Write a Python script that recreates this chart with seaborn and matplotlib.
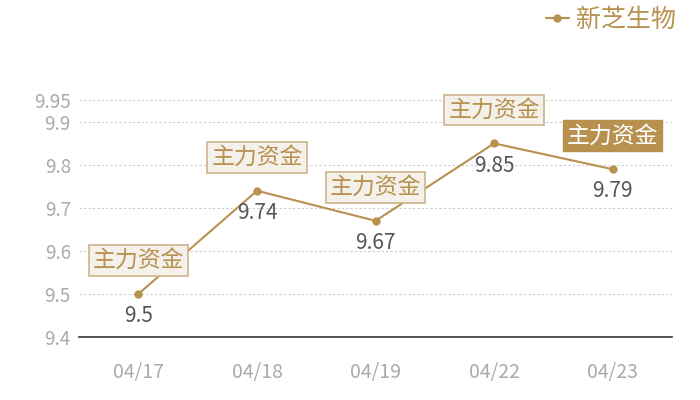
import matplotlib
matplotlib.use("Agg")
import matplotlib.pyplot as plt
import numpy as np
import pandas as pd
import seaborn as sns

dates = ["04/17", "04/18", "04/19", "04/22", "04/23"]
prices = [9.5, 9.74, 9.67, 9.85, 9.79]
tags = ["主力资金", "主力资金", "主力资金", "主力资金", "主力资金"]
tag_filled = [False, False, False, False, True]
series_name = "新芝生物"
y_ticks = [9.4, 9.5, 9.6, 9.7, 9.8, 9.9, 9.95]

gold = "#B8914F"

sns.set_theme(style="white")
plt.rcParams["font.family"] = ["Noto Sans CJK SC", "DejaVu Sans"]

df = pd.DataFrame({"date": dates, "price": prices})
df["pos"] = np.arange(len(df))

fig = plt.figure(figsize=(7, 4), dpi=100)
ax = fig.add_axes([0.113, 0.1575, 0.847, 0.5915])

sns.lineplot(data=df, x="pos", y="price", ax=ax, color=gold, linewidth=1.5,
             marker="o", markersize=6, markeredgewidth=0, label=series_name)

ax.set_xlim(-0.5, len(df) - 0.5)
ax.set_ylim(9.4, 9.95)
ax.set_xticks(df["pos"])
ax.set_xticklabels(dates)
ax.set_yticks(y_ticks)
ax.set_yticklabels([f"{v:g}" for v in y_ticks])
ax.tick_params(axis="x", colors="#AAAAAA", labelsize=14, length=0, pad=18)
ax.tick_params(axis="y", colors="#AAAAAA", labelsize=13.5, length=0, pad=6)
ax.set_xlabel("")
ax.set_ylabel("")

for t in y_ticks[1:]:
    ax.axhline(t, color="#CCCCCC", linewidth=0.8, linestyle=(0, (2, 2)), zorder=0)

for s in ["top", "right", "left"]:
    ax.spines[s].set_visible(False)
ax.spines["bottom"].set_color("#333333")
ax.spines["bottom"].set_linewidth(1.2)

for i, row in df.iterrows():
    ax.annotate(f"{row['price']:g}", (row["pos"], row["price"]), xytext=(0, -16),
                textcoords="offset points", ha="center", va="center",
                fontsize=15, color="#555555")
    if tag_filled[i]:
        box = dict(boxstyle="square,pad=0.17", fc=gold, ec=gold, lw=1)
        tc = "white"
    else:
        box = dict(boxstyle="square,pad=0.17", fc="#F4F0EA", ec="#CDB38A", lw=1.2)
        tc = gold
    ax.annotate(tags[i], (row["pos"], row["price"]), xytext=(0, 24),
                textcoords="offset points", ha="center", va="center",
                fontsize=16.5, color=tc, bbox=box)

leg = ax.legend(loc="upper right", bbox_to_anchor=(1.045, 1.49), frameon=False,
                fontsize=18, handlelength=0.9, handletextpad=0.3)
for txt in leg.get_texts():
    txt.set_color(gold)

fig.savefig("out.png", dpi=100)
